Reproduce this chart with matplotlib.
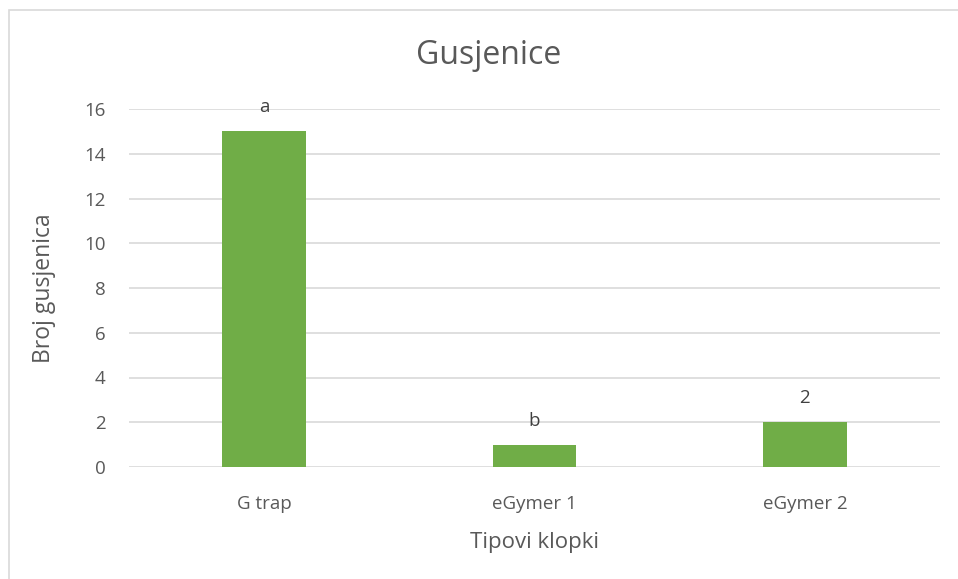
import matplotlib
matplotlib.use("Agg")
import matplotlib.pyplot as plt
from matplotlib.patches import Rectangle

categories = ["G trap", "eGymer 1", "eGymer 2"]
values = [15, 1, 2]
bar_labels = ["a", "b", "2"]
yticks = [0, 2, 4, 6, 8, 10, 12, 14, 16]

plt.rcParams['font.family'] = ['Open Sans', 'DejaVu Sans']

W, H = 958, 579
fig = plt.figure(figsize=(W/100, H/100), dpi=100)
fig.patch.set_facecolor("white")

# chart border (Excel-style)
fig.patches.append(Rectangle((9/W, -0.05), 1.2, 1 - 10/H + 0.05, transform=fig.transFigure,
                             fill=False, edgecolor="#D9D9D9", linewidth=1.2))

left, right = 129/W, 940/W
bottom, top = 1 - 467/H, 1 - 109/H
ax = fig.add_axes([left, bottom, right - left, top - bottom])

x = list(range(len(categories)))
bars = ax.bar(x, values, width=0.31, color="#70AD47", zorder=3)

ax.set_xlim(-0.5, 2.5)
ax.set_ylim(0, 16)
ax.set_yticks(yticks)
ax.set_xticks(x)
ax.set_xticklabels(categories)
ax.yaxis.grid(True, color="#D9D9D9", linewidth=1.2, zorder=0)
ax.tick_params(axis="both", length=0, labelsize=13.5, colors="#595959")
ax.tick_params(axis="x", pad=20)
ax.tick_params(axis="y", pad=17)
for s in ax.spines.values():
    s.set_visible(False)

for rect, lab in zip(bars, bar_labels):
    ax.annotate(lab, (rect.get_x() + rect.get_width()/2, rect.get_height()),
                xytext=(0, 24), textcoords="offset pixels", ha="center", va="center",
                fontsize=13.5, color="#404040")

ax.set_xlabel("Tipovi klopki", fontsize=16, color="#595959", labelpad=14)
ax.set_ylabel("Broj gusjenica", fontsize=16.5, color="#595959", labelpad=20)
fig.text(489/W, 1 - 55/H, "Gusjenice", ha="center", va="center", fontsize=23, color="#595959")

fig.savefig("out.png", dpi=100, facecolor="white")
